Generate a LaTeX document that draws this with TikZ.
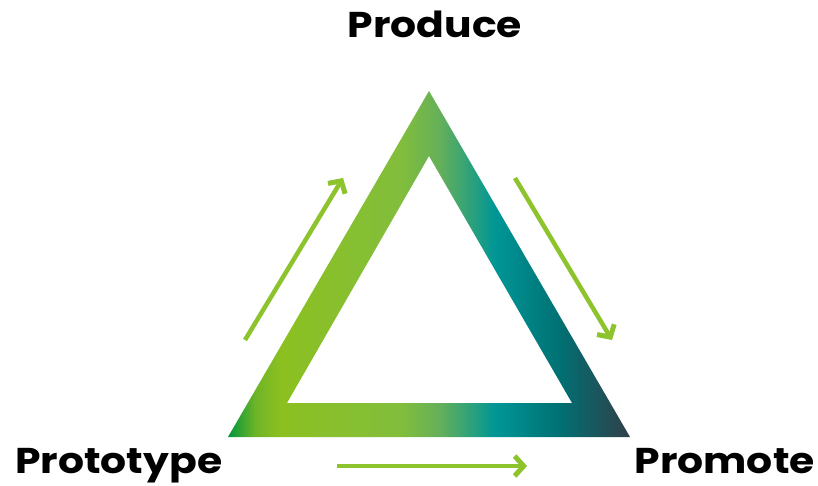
\documentclass[tikz,border=0pt]{standalone}
\usepackage{fontspec}
\setmainfont[FakeStretch=1.14]{Poppins}
\usetikzlibrary{arrows.meta}
\definecolor{arrowgreen}{RGB}{141,196,45}
\pgfdeclarehorizontalshading{trigrad}{100bp}{%
  color(0bp)=(rgb,255:red,0;green,150;blue,60);
  color(25bp)=(rgb,255:red,0;green,150;blue,60);
  color(28.4bp)=(rgb,255:red,110;green,180;blue,40);
  color(31.5bp)=(rgb,255:red,140;green,192;blue,32);
  color(46.4bp)=(rgb,255:red,130;green,190;blue,60);
  color(51.4bp)=(rgb,255:red,100;green,175;blue,90);
  color(58.2bp)=(rgb,255:red,0;green,150;blue,150);
  color(66.3bp)=(rgb,255:red,0;green,112;blue,115);
  color(75bp)=(rgb,255:red,50;green,62;blue,72);
  color(100bp)=(rgb,255:red,50;green,62;blue,72)}
\tikzset{
  flowarrow/.style={draw=arrowgreen, line width=4.5bp,
    -{Straight Barb[length=9bp,width=20bp,line width=5bp]}},
  label/.style={font=\fontsize{36}{40}\selectfont\bfseries, text=black, inner sep=0pt}
}
\begin{document}
\begin{tikzpicture}[x=1bp,y=-1bp]
\useasboundingbox[fill=white] (0,0) rectangle (818,486);
\shade[shading=trigrad, shading angle=0, even odd rule]
  (429,91) -- (228,437) -- (630,437) -- cycle
  (429,156) -- (287,403) -- (572,403) -- cycle;
\coordinate (l1) at (245,340); \coordinate (l2) at (343,178);
\coordinate (r1) at (515,178); \coordinate (r2) at (612,340);
\coordinate (b1) at (337,466); \coordinate (b2) at (527,466);
\draw[flowarrow] (l1) -- (l2);
\draw[flowarrow] (r1) -- (r2);
\draw[flowarrow] (b1) -- (b2);
\node[label, anchor=base] (produce) at (435,38) {Produce};
\node[label, anchor=base west] (prototype) at (15,473) {Prototype};
\node[label, anchor=base east] (promote) at (815,473) {Promote};
\end{tikzpicture}
\end{document}
